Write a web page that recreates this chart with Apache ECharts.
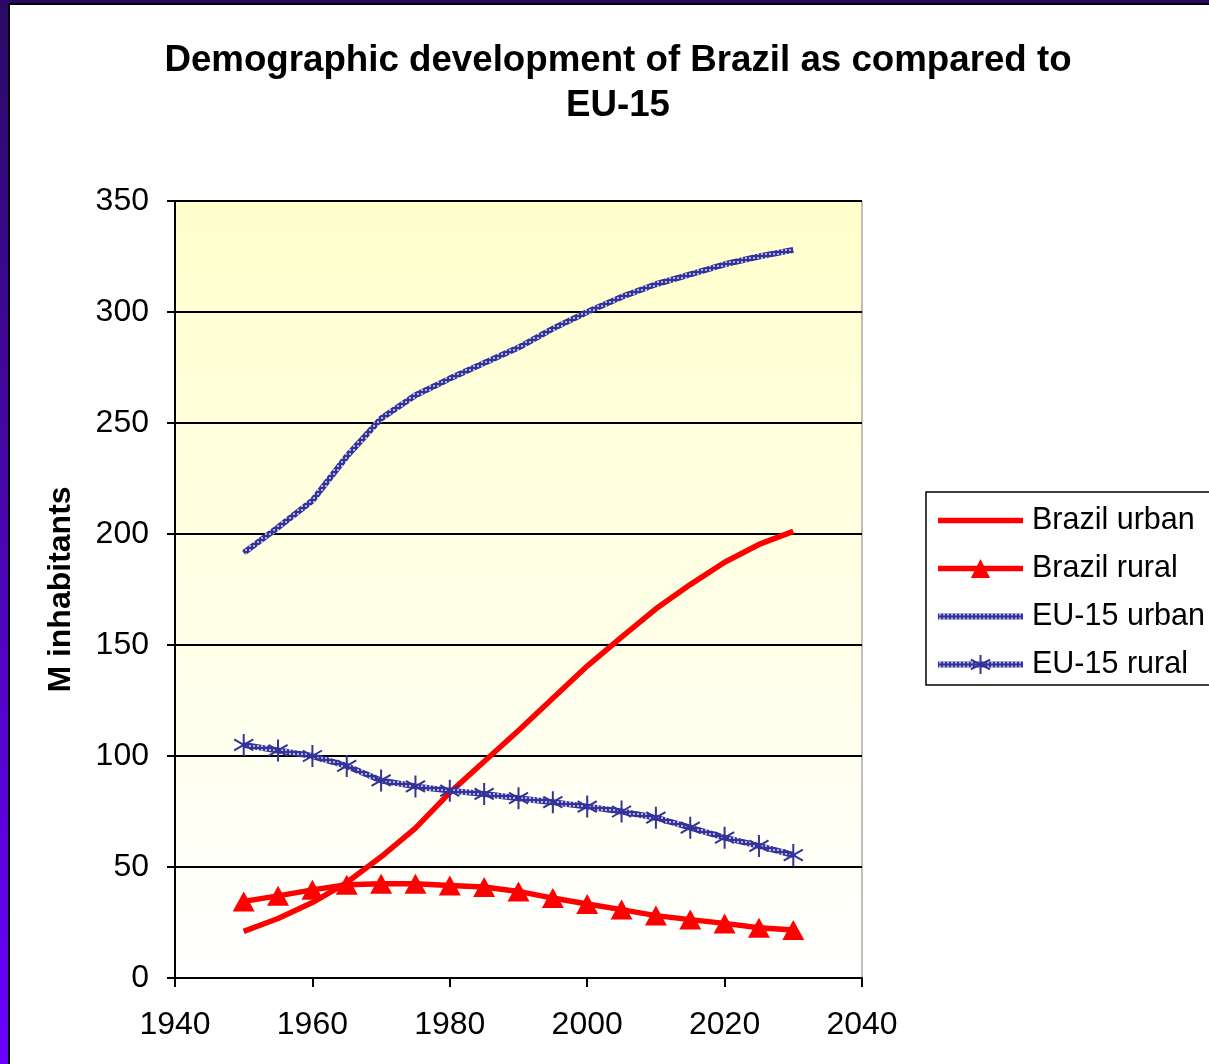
<!DOCTYPE html>
<html>
<head>
<meta charset="utf-8">
<script src="https://cdn.jsdelivr.net/npm/echarts@6/dist/echarts.min.js"></script>
<style>
  html, body { margin: 0; padding: 0; background: #ffffff; }
  #chart { position: absolute; left: 0; top: 0; width: 1209px; height: 1064px; }
  #bandLeft { position: absolute; left: 0; top: 0; width: 8px; height: 1064px;
    background: linear-gradient(to bottom, #2a0a66, #4a06b0 50%, #6a00ff); z-index: 5; }
  #lineLeft { position: absolute; left: 8px; top: 3px; width: 2px; height: 1061px; background: #000; z-index: 5; }
  #bandTop { position: absolute; left: 0; top: 0; width: 1209px; height: 3px; background: #2a0866; z-index: 5; }
  #lineTop { position: absolute; left: 8px; top: 3px; width: 1201px; height: 2px; background: #000; z-index: 5; }
</style>
</head>
<body>
<div id="chart"></div>
<div id="bandLeft"></div>
<div id="lineLeft"></div>
<div id="bandTop"></div>
<div id="lineTop"></div>
<script>
// ---- Data ----
const years = [1950, 1955, 1960, 1965, 1970, 1975, 1980, 1985, 1990, 1995, 2000, 2005, 2010, 2015, 2020, 2025, 2030];
const brazilUrban = [21, 26.8, 34, 43, 54.6, 67.5, 83.5, 97.5, 111.5, 126, 140.5, 153.5, 166.3, 177.2, 187.3, 195.3, 201.2];
const brazilRural = [34.5, 37, 39.7, 42, 42.4, 42.4, 41.7, 41, 39, 36, 33.3, 30.8, 28.1, 26.3, 24.6, 22.6, 21.6];
const euUrban = [191.5, 203, 215, 235, 252, 262.5, 270, 277, 284, 292.5, 300, 306.8, 312.5, 317, 321.5, 325, 328];
const euRural = [105, 102.5, 100, 95.5, 89, 86.3, 84.4, 82.9, 81, 79.2, 77.2, 75, 72.2, 67.7, 63.2, 59.5, 55.4];
const seriesNames = ['Brazil urban', 'Brazil rural', 'EU-15 urban', 'EU-15 rural'];
const titleText = 'Demographic development of Brazil as compared to\nEU-15';
const yAxisName = 'M inhabitants';

// ---- Helpers ----
const pairs = (vals) => years.map((y, i) => [y, vals[i]]);

// checkered pattern for EU lines
const pc = document.createElement('canvas');
pc.width = 4; pc.height = 4;
const pctx = pc.getContext('2d');
pctx.fillStyle = '#333399';
pctx.fillRect(0, 0, 4, 4);
pctx.fillStyle = '#b0b0e0';
pctx.fillRect(1, 1, 2, 2);
const euPattern = { image: pc, repeat: 'repeat' };

const FONT = '"Liberation Sans", Arial, sans-serif';
const asterisk = 'path://M10,0 L10,20 M1.3,5 L18.7,15 M1.3,15 L18.7,5';

const noSymbol = { opacity: 0, color: 'transparent', borderColor: 'transparent', borderWidth: 0 };

const chart = echarts.init(document.getElementById('chart'), null, { renderer: 'canvas' });
chart.setOption({
  animation: false,
  backgroundColor: 'transparent',
  title: {
    text: titleText,
    left: 613,
    textAlign: 'center',
    top: 33,
    textStyle: { fontFamily: FONT, fontWeight: 'bold', fontSize: 36.7, lineHeight: 45, color: '#000' }
  },
  grid: {
    left: 175, right: 347, top: 201, bottom: 86,
    show: true,
    borderColor: '#808080', borderWidth: 1,
    backgroundColor: new echarts.graphic.LinearGradient(0, 0, 0, 1, [
      { offset: 0, color: '#FFFFCC' },
      { offset: 1, color: '#FFFFFF' }
    ])
  },
  legend: {
    orient: 'vertical',
    left: 926, top: 492,
    padding: [13, 40, 5, 9],
    itemWidth: 85, itemHeight: 24,
    itemGap: 17,
    backgroundColor: '#ffffff',
    borderColor: '#000000', borderWidth: 1.5,
    selectedMode: false,
    data: [
      { name: seriesNames[0], itemStyle: noSymbol, lineStyle: { width: 5.5 } },
      { name: seriesNames[1], lineStyle: { width: 5.5 } },
      { name: seriesNames[2], itemStyle: noSymbol, lineStyle: { width: 6 } },
      { name: seriesNames[3], lineStyle: { width: 6 } }
    ],
    textStyle: { fontFamily: FONT, fontSize: 30.5, lineHeight: 30, color: '#000', padding: [0, 0, 0, 4] }
  },
  xAxis: {
    type: 'value',
    min: 1940, max: 2040, interval: 20,
    splitLine: { show: false },
    axisLine: { show: true, onZero: false, lineStyle: { color: '#000', width: 2 } },
    axisTick: { show: true, length: 9, lineStyle: { color: '#000', width: 2 } },
    axisLabel: { fontFamily: FONT, fontSize: 32, color: '#000', margin: 31, formatter: (v) => String(v) }
  },
  yAxis: {
    type: 'value',
    min: 0, max: 350, interval: 50,
    name: yAxisName,
    nameLocation: 'middle',
    nameGap: 98,
    nameTextStyle: { fontFamily: FONT, fontWeight: 'bold', fontSize: 32, color: '#000' },
    splitLine: { show: true, lineStyle: { color: '#000', width: 2 } },
    axisLine: { show: true, lineStyle: { color: '#000', width: 2 } },
    axisTick: { show: true, length: 8, lineStyle: { color: '#000', width: 2 } },
    axisLabel: { fontFamily: FONT, fontSize: 32, color: '#000', margin: 26 }
  },
  series: [
    {
      name: seriesNames[0], type: 'line', data: pairs(brazilUrban),
      symbol: 'none', color: '#FF0000',
      lineStyle: { color: '#FF0000', width: 5.5 }
    },
    {
      name: seriesNames[1], type: 'line', data: pairs(brazilRural),
      symbol: 'triangle', symbolSize: [22, 20], color: '#FF0000',
      itemStyle: { color: '#FF0000' },
      lineStyle: { color: '#FF0000', width: 5.5 }
    },
    {
      name: seriesNames[2], type: 'line', data: pairs(euUrban),
      symbol: 'none', color: '#333399',
      lineStyle: { color: euPattern, width: 6 }
    },
    {
      name: seriesNames[3], type: 'line', data: pairs(euRural),
      symbol: asterisk, symbolSize: 22, symbolKeepAspect: true,
      color: '#333399',
      itemStyle: { color: 'transparent', borderColor: '#333399', borderWidth: 2 },
      lineStyle: { color: euPattern, width: 6 }
    }
  ]
});
</script>
</body>
</html>
